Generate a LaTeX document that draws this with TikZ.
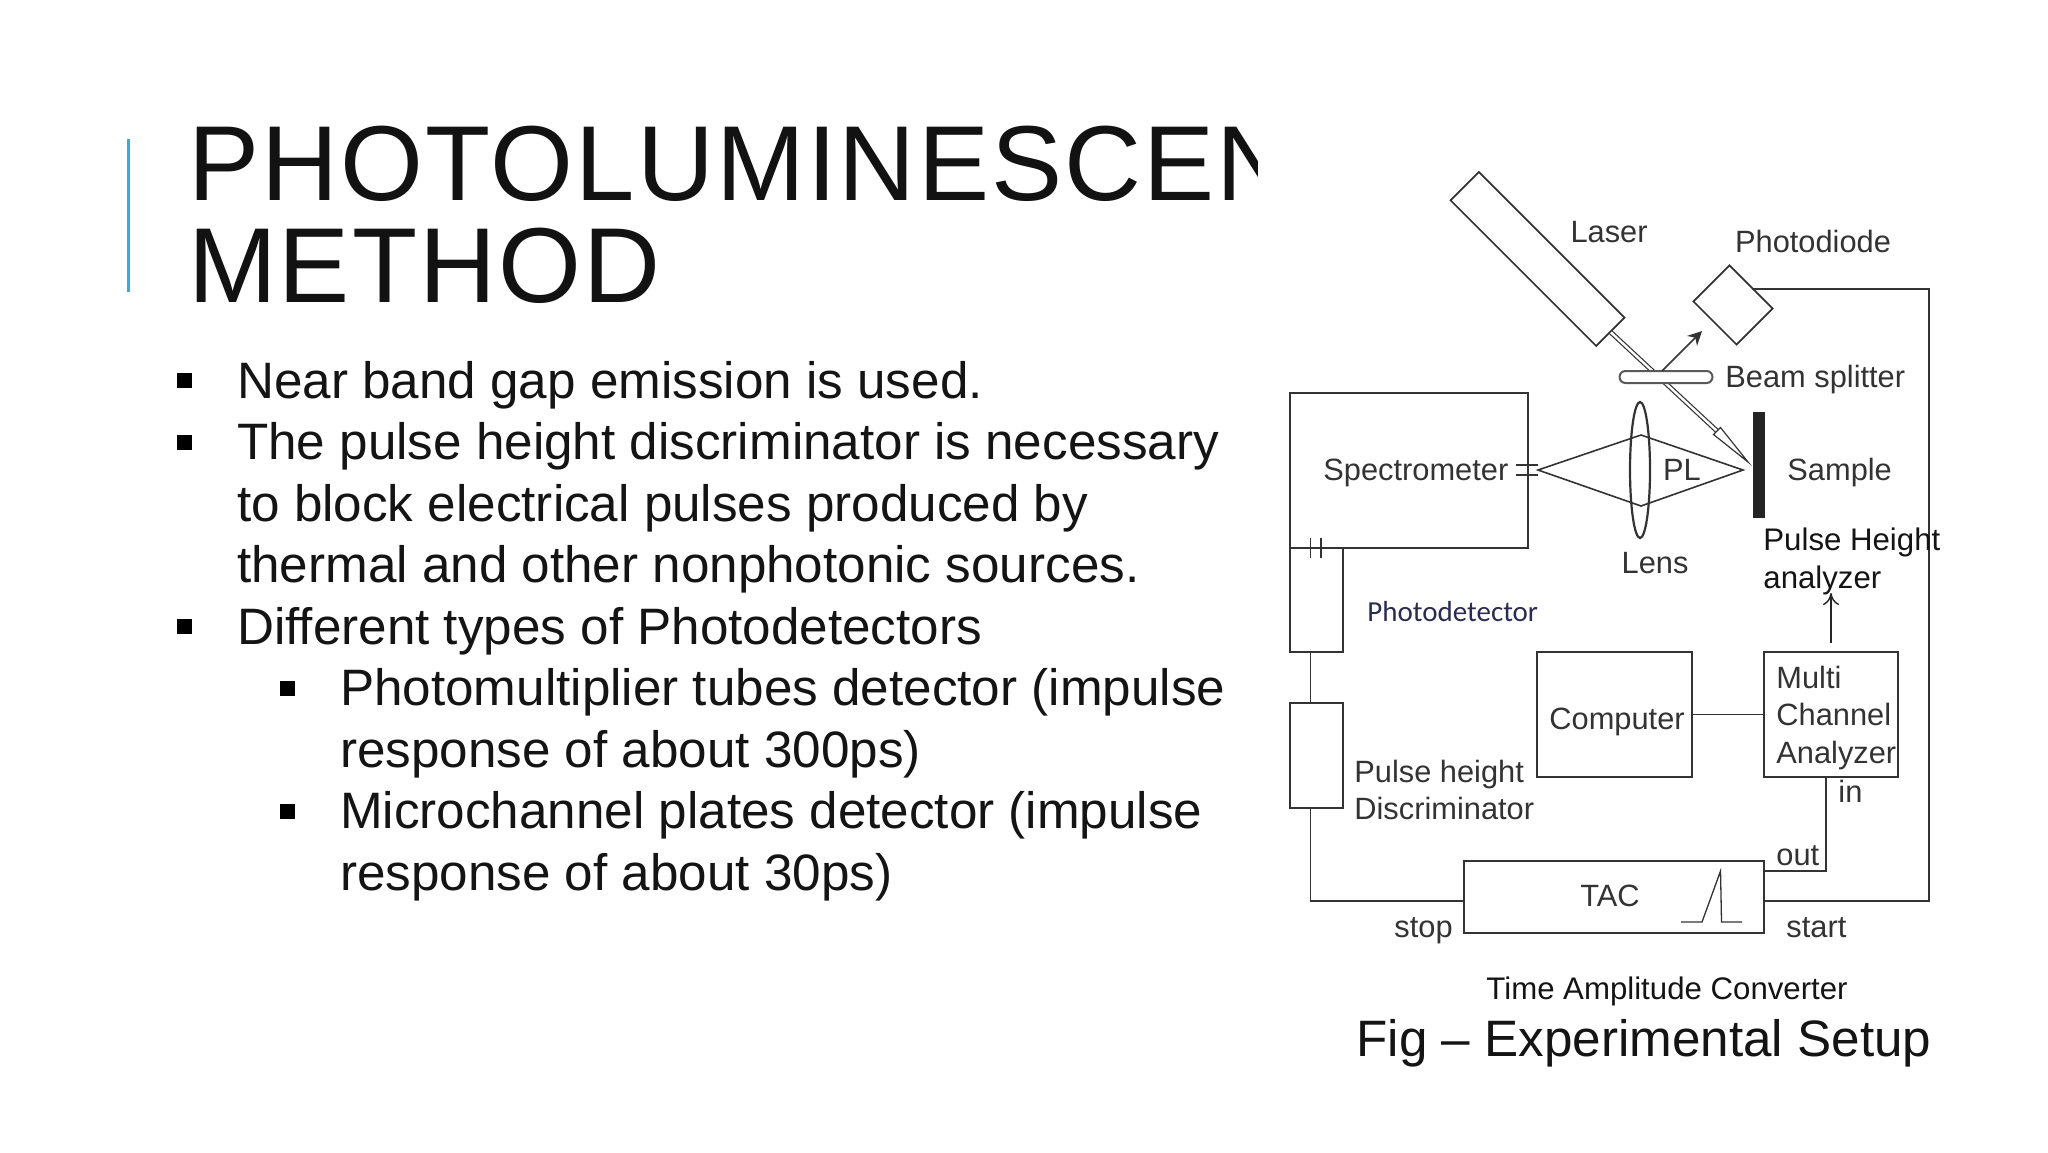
\documentclass[tikz,border=0pt]{standalone}
\usepackage{fontspec}
\setmainfont{Liberation Sans}
\newfontfamily\calfont{Carlito}
\newfontfamily\hdfont[LetterSpace=2]{Liberation Sans}
\usetikzlibrary{arrows.meta,shapes.geometric}
\definecolor{inkgray}{HTML}{333333}
\definecolor{barblue}{HTML}{2BB0E0}
\tikzset{hd/.append style={anchor=base west,inner sep=0,text=black!93,font=\hdfont\fontsize{53.3}{60}\selectfont}}
\tikzset{bd/.append style={anchor=base west,inner sep=0,text=black!92,font=\fontsize{25.6}{30}\selectfont}}
\tikzset{bul/.append style={fill=black,inner sep=0,minimum size=7.5pt}}
\tikzset{lb/.append style={anchor=base west,inner sep=0,text=inkgray,font=\fontsize{15.4}{18}\selectfont}}
\tikzset{lc/.append style={lb,anchor=base}}
\tikzset{cp/.append style={anchor=base west,inner sep=0,text=black!92,font=\fontsize{15.6}{18}\selectfont}}
\tikzset{bx/.append style={draw=inkgray,line width=0.85pt,inner sep=0}}
\tikzset{wr/.append style={draw=inkgray,line width=0.8pt}}

\begin{document}
\begin{tikzpicture}[x=0.5pt,y=-0.5pt]
                \useasboundingbox (0,0) rectangle (2048,1152);
                \fill[white] (0,0) rectangle (2048,1152);
                % title
                \draw[barblue,line width=1.6pt] (128.3,139) -- (128.3,292);
                \begin{scope}
                    \clip (150,90) rectangle (1257,240);
                    \node[hd] (ta) at (187.6,200) {PHOTOLUMINESCEN};
                \end{scope}
                \node[hd] (tb) at (187.6,302) {METHOD};
                % text
                \node[bul] (ba) at (184.5,380.5) {};
                \node[bul] (bb) at (184.5,442) {};
                \node[bul] (bc) at (184.5,626.5) {};
                \node[bul] (bd) at (287,688) {};
                \node[bul] (be) at (287,811) {};
                \node[bd] (la) at (236.8,398) {Near band gap emission is used.};
                \node[bd] (lb) at (236.8,459.5) {The pulse height discriminator is necessary};
                \node[bd] (lc) at (236.8,521) {to block electrical pulses produced by};
                \node[bd] (ld) at (236.8,582.5) {thermal and other nonphotonic sources.};
                \node[bd] (le) at (236.8,644) {Different types of Photodetectors};
                \node[bd] (lf) at (339.8,705.5) {Photomultiplier tubes detector (impulse};
                \node[bd] (lg) at (339.8,767) {response of about 300ps)};
                \node[bd] (lh) at (339.8,828.5) {Microchannel plates detector (impulse};
                \node[bd] (li) at (339.8,890) {response of about 30ps)};
                % optics
                \node[bx,rotate=-45,minimum width=103pt,minimum height=20pt] (laser) at (1537.5,259) {};
                \node[bx,rotate=-45,minimum width=30.5pt,minimum height=25.5pt] (diode) at (1733,305) {};
                \coordinate (bme) at (1717,431);
                \coordinate (hda) at (1720.5,427.5);
                \coordinate (hdb) at (1713.5,434.5);
                \coordinate (tip) at (1748,462);
                \draw[black!80,line width=0.6pt,double=white,double distance=1.2pt] (laser.east) -- (bme);
                \draw[black!80,line width=0.6pt] (hda) -- (tip) -- (hdb) -- cycle;
                \node[bx,draw=black!65,fill=white,rounded corners=3pt,minimum width=46.5pt,minimum height=6pt,line width=1pt] (split) at (1666,377) {};
                \coordinate (rfl) at (1662,371);
                \coordinate (rfh) at (1702,331);
                \draw[wr,-{Stealth[length=7pt,width=7pt]}] (rfl) -- (rfh);
                \coordinate (cna) at (1538,470);
                \coordinate (cnb) at (1641,435);
                \coordinate (cnc) at (1743,470);
                \coordinate (cnd) at (1641,506);
                \draw[wr] (cna) -- (cnb) -- (cnc) -- (cnd) -- cycle;
                \node[bx,ellipse,minimum width=10pt,minimum height=68pt,line width=1.1pt] (lens) at (1640,470) {};
                \node[fill=inkgray!70!black,inner sep=0,minimum width=6pt,minimum height=53pt] (smp) at (1759,465) {};
                % boxes
                \node[bx,minimum width=119pt,minimum height=77.5pt] (spec) at (1409,470.5) {};
                \node[bx,minimum width=26.5pt,minimum height=52pt] (det) at (1316.5,600) {};
                \node[bx,minimum width=26.5pt,minimum height=52.5pt] (disc) at (1316.5,755.5) {};
                \node[bx,minimum width=77.5pt,minimum height=62.5pt] (comp) at (1614.5,714.5) {};
                \node[bx,minimum width=67pt,minimum height=62.5pt] (mca) at (1831,714.5) {};
                \node[bx,minimum width=150pt,minimum height=36pt] (tac) at (1614,897) {};
                % slits
                \draw[wr] (1516,465) -- (cna |- 0,465);
                \draw[wr] (1516,475) -- (cna |- 0,475);
                \draw[wr,line width=0.6pt] (1310.5,538) -- (1310.5,558);
                \draw[wr,line width=0.6pt] (1321,538) -- (1321,558);
                % wires
                \coordinate (lft) at (1310.5,901);
                \coordinate (rgt) at (1929,901);
                \coordinate (otc) at (1826,871);
                \coordinate (aup) at (1831,593);
                \draw[wr] ([yshift=-1.2pt]diode.north) -| (rgt) -- (tac.east |- rgt);
                \draw[wr] (det.south -| lft) -- (disc.north -| lft);
                \draw[wr] (disc.south -| lft) -- (lft) -- (tac.west |- lft);
                \draw[wr] (tac.east |- otc) -- (otc) -- (mca.south -| otc);
                \draw[wr] (comp.east) -- (mca.west);
                \draw[black!85,line width=0.7pt,-{To[length=6pt,width=8pt]}] (1831,643) -- (aup);
                % pulse
                \draw[wr,line width=0.65pt] (1681,922) -- (1702,922) -- (1720.5,871) -- (1721.5,922) -- (1742,922);
                % labels
                \node[lc] (tlaser) at (1609,242) {Laser};
                \node[lc] (tdiode) at (1813,252) {Photodiode};
                \node[lb] (tsplit) at (1725,387) {Beam splitter};
                \node[lb] (tspec) at (1323,480) {Spectrometer};
                \node[lc] (tpl) at (1682,480) {PL};
                \node[lb] (tsmp) at (1787,480) {Sample};
                \node[lc] (tlens) at (1655,573) {Lens};
                \node[cp] (tpa) at (1763,550) {Pulse Height};
                \node[cp] (tpb) at (1763,588) {analyzer};
                \node[lb,text=inkgray!85!blue,font=\calfont\fontsize{14.5}{18}\selectfont] (tdet) at (1367,621) {Photodetector};
                \node[lb] (tcomp) at (1549,729) {Computer};
                \node[lb] (tma) at (1776,688) {Multi};
                \node[lb] (tmb) at (1776,725) {Channel};
                \node[lb] (tmc) at (1776,763) {Analyzer};
                \node[lb] (tin) at (1838,802) {in};
                \node[lb] (tout) at (1776,865) {out};
                \node[lb] (tpha) at (1354,782) {Pulse height};
                \node[lb] (tphb) at (1354,819) {Discriminator};
                \node[lc] (ttac) at (1610,906) {TAC};
                \node[lb] (tstop) at (1394,937) {stop};
                \node[lb] (tstart) at (1786,937) {start};
                \node[cp] (ttime) at (1486,999) {Time Amplitude Converter};
                \node[bd] (tfig) at (1356,1056) {Fig – Experimental Setup};
\end{tikzpicture}
\end{document}
